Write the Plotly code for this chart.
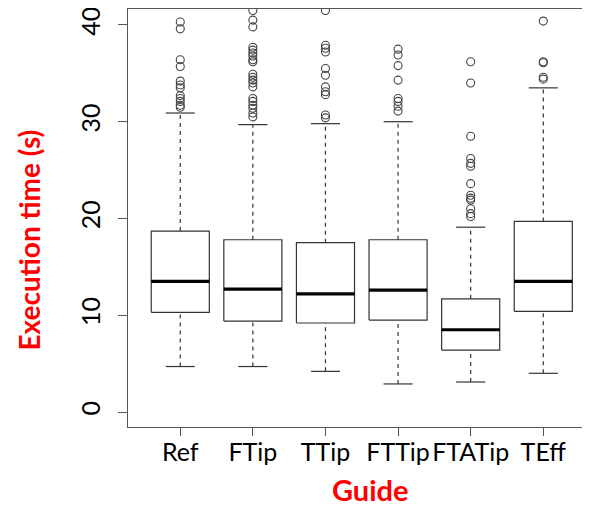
import plotly.graph_objects as go

# Box statistics (seconds)
guides = ['Ref', 'FTip', 'TTip', 'FTTip', 'FTATip', 'TEff']
q1 = [10.3, 9.4, 9.2, 9.5, 6.4, 10.4]
median = [13.5, 12.7, 12.2, 12.6, 8.5, 13.5]
q3 = [18.7, 17.8, 17.5, 17.8, 11.7, 19.7]
lower_whisker = [4.7, 4.7, 4.2, 2.9, 3.1, 4.0]
upper_whisker = [30.9, 29.7, 29.8, 30.0, 19.1, 33.5]

# Outliers per guide
ref_out = [40.3, 39.6, 36.4, 35.7, 34.2, 33.8, 33.5, 32.7, 32.4, 32.1, 31.7, 31.5]
ftip_out = [41.5, 40.5, 39.8, 37.7, 37.4, 37.1, 36.8, 36.4, 36.2, 34.9, 34.6,
            34.3, 34.0, 33.6, 32.4, 32.1, 31.7, 31.4, 30.9, 30.5]
ttip_out = [41.5, 37.9, 37.6, 37.2, 35.5, 34.8, 33.6, 33.1, 32.8, 30.7, 30.4]
fttip_out = [37.5, 36.9, 35.8, 34.3, 32.4, 32.1, 31.6, 31.1]
ftatip_out = [36.2, 34.0, 28.5, 26.2, 25.7, 25.4, 23.6, 22.4, 22.1, 21.9, 21.0, 20.5, 20.2]
teff_out = [40.4, 36.2, 36.1, 34.6, 34.4]
outliers = [ref_out, ftip_out, ttip_out, fttip_out, ftatip_out, teff_out]

pos = list(range(1, len(guides) + 1))
half = 0.4      # boxwex 0.8
cap = 0.2       # staple half width

box_x, box_y, med_x, med_y = [], [], [], []
wh_x, wh_y, cap_x, cap_y = [], [], [], []
out_x, out_y = [], []
for i, p in enumerate(pos):
    box_x += [p - half, p + half, p + half, p - half, p - half, None]
    box_y += [q1[i], q1[i], q3[i], q3[i], q1[i], None]
    med_x += [p - half, p + half, None]
    med_y += [median[i], median[i], None]
    wh_x += [p, p, None, p, p, None]
    wh_y += [lower_whisker[i], q1[i], None, q3[i], upper_whisker[i], None]
    cap_x += [p - cap, p + cap, None, p - cap, p + cap, None]
    cap_y += [lower_whisker[i], lower_whisker[i], None, upper_whisker[i], upper_whisker[i], None]
    out_x += [p] * len(outliers[i])
    out_y += outliers[i]

fig = go.Figure()
fig.add_trace(go.Scatter(x=wh_x, y=wh_y, mode='lines',
                         line=dict(color='#333333', width=1.2, dash='4px,4px')))
fig.add_trace(go.Scatter(x=cap_x, y=cap_y, mode='lines',
                         line=dict(color='#333333', width=1.2)))
fig.add_trace(go.Scatter(x=box_x, y=box_y, mode='lines',
                         line=dict(color='#333333', width=1.2)))
fig.add_trace(go.Scatter(x=med_x, y=med_y, mode='lines',
                         line=dict(color='black', width=3.2)))
fig.add_trace(go.Scatter(x=out_x, y=out_y, mode='markers',
                         marker=dict(symbol='circle-open', size=8, color='#444444',
                                     line=dict(width=1.1))))

# page is shown with the browser's 8px body margin, so offset everything
W, H = 590, 506
ml, mr, mt, mb = 120, 1, 1, 87
pw, ph = W - ml - mr, H - mt - mb


def px_to_paper(x, y):
    # reference screenshot pixel -> paper coords of the plot area
    return (x - 8 - ml) / pw, (H - mb - (y - 8)) / ph


gx, gy = px_to_paper(370, 489)
ex, ey = px_to_paper(28.5, 240)

fig.update_layout(
    width=W, height=H,
    margin=dict(l=ml, r=mr, t=mt, b=mb),
    plot_bgcolor='white', paper_bgcolor='white',
    showlegend=False,
    font=dict(family='Lato, sans-serif', color='black'),
    annotations=[
        dict(text='<b>Guide</b>', x=gx, y=gy, xref='paper', yref='paper',
             xanchor='center', yanchor='middle', showarrow=False,
             font=dict(size=29, color='red')),
        dict(text='<b>Execution time (s)</b>', x=ex, y=ey,
             xref='paper', yref='paper', xanchor='center', yanchor='middle',
             showarrow=False, textangle=-90, font=dict(size=28, color='red')),
    ],
)
fig.update_xaxes(
    range=[0.28, 6.74], tickvals=pos, ticktext=guides,
    showline=True, linecolor='#555555', linewidth=1.2, mirror=True,
    ticks='outside', ticklen=8, tickcolor='#555555',
    showgrid=False, zeroline=False, automargin=False,
    tickfont=dict(size=25), ticklabelstandoff=-5, ticklabeloverflow='allow',
)
fig.update_yaxes(
    range=[-1.55, 41.65], tickvals=[0, 10, 20, 30, 40],
    showline=True, linecolor='#555555', linewidth=1.2, mirror=True,
    ticks='outside', ticklen=9, tickcolor='#555555',
    showgrid=False, zeroline=False, automargin=False,
    tickangle=-90, tickfont=dict(size=25), ticklabelstandoff=8,
    ticklabeloverflow='allow',
)

fig.write_html("out.html")
